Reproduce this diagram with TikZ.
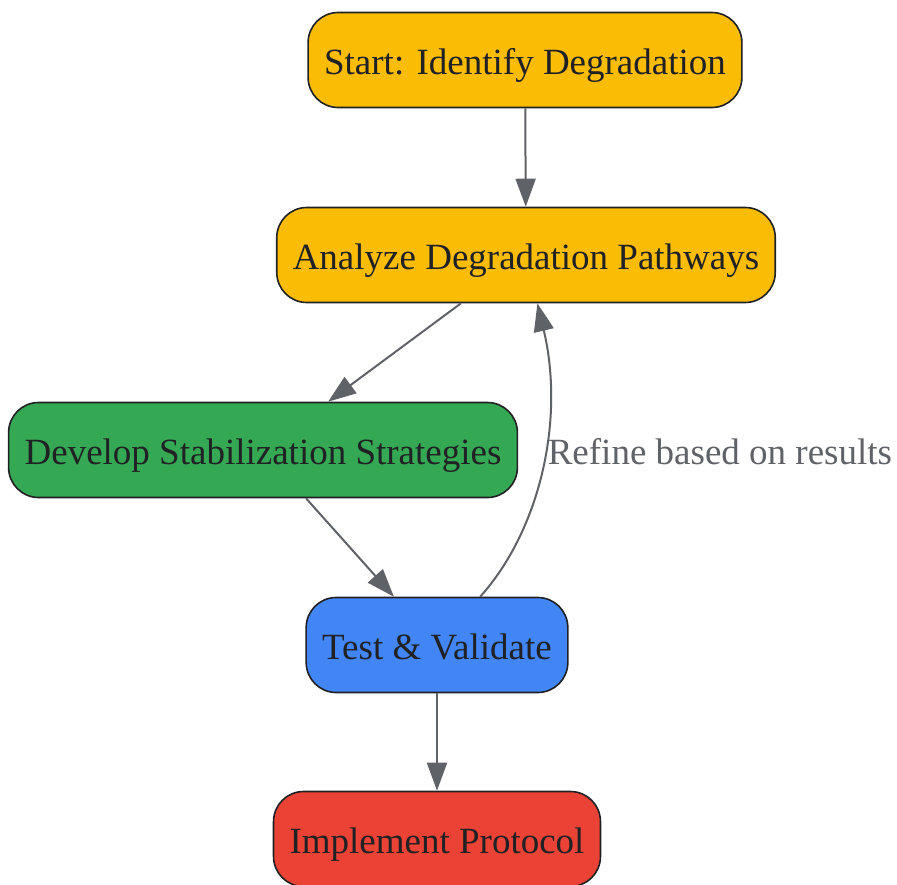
\documentclass[tikz,border=0pt]{standalone}
\usepackage{fontspec}
\setmainfont{Liberation Serif}
\usepackage{xcolor}
\usetikzlibrary{arrows.meta,shapes,calc}

\definecolor{gyellow}{HTML}{FBBC05}
\definecolor{ggreen}{HTML}{34A853}
\definecolor{gblue}{HTML}{4285F4}
\definecolor{gred}{HTML}{EA4335}
\definecolor{edgegray}{HTML}{5F6368}
\definecolor{inkdark}{HTML}{202124}

\begin{document}
\begin{tikzpicture}[x=1pt,y=-1pt]
            \tikzset{stepbox/.style = {draw=inkdark, line width=1.6pt, rounded corners=30pt,
                minimum height=95pt, inner xsep=16pt, text height=28.5pt, text depth=0pt,
                text=inkdark, font=\fontsize{37}{44}\selectfont}}
            \tikzset{flow/.style = {draw=edgegray, line width=2pt, -{Triangle[length=28pt,width=20pt]}}}
            \tikzset{flowlabel/.style = {text=edgegray, font=\fontsize{37}{44}\selectfont,
                text height=28.5pt, text depth=0pt, inner sep=2pt}}

            \useasboundingbox (0,0) rectangle (897,884);
            \clip (0,0) rectangle (897,884);

            % steps
            \node[stepbox, fill=gyellow] (start) at (525,60) {Start: Identify Degradation};
            \node[stepbox, fill=gyellow] (analyze) at (526,255) {Analyze Degradation Pathways};
            \node[stepbox, fill=ggreen] (develop) at (263,450) {Develop Stabilization Strategies};
            \node[stepbox, fill=gblue] (test) at (437,645) {Test \& Validate};
            \node[stepbox, fill=gred] (implement) at (437,839) {Implement Protocol};

            % edges
            \draw[flow] (start) -- (analyze);
            \draw[flow] (analyze) -- (develop);
            \draw[flow] (develop) -- (test);
            \draw[flow] (test) -- (implement);
            \draw[flow] (test) .. controls (540,530) and (565,420) .. (analyze)
              node[flowlabel, pos=0.56, right] (refine) {Refine based on results};

\end{tikzpicture}
\end{document}
